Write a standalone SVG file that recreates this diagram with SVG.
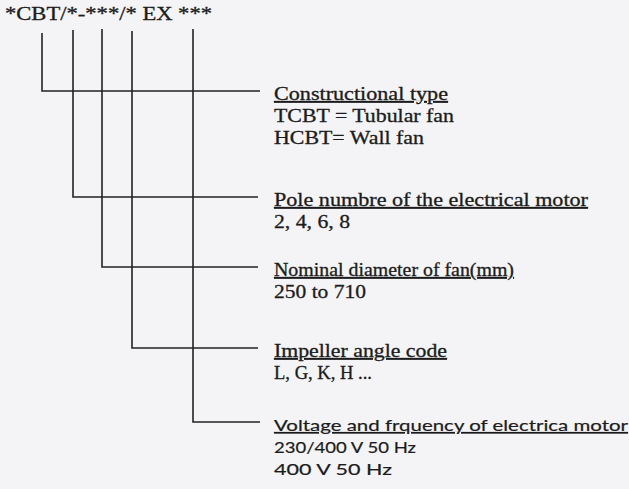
<svg xmlns="http://www.w3.org/2000/svg" width="629" height="489" viewBox="0 0 629 489">
<style>
.bg{fill:#f4f4f6}
.ln{stroke:#222;stroke-width:1.6;fill:none}
.t{font-family:"Liberation Serif","Times New Roman",serif;font-size:18px;fill:#1c1c1c;stroke:#1c1c1c;stroke-width:0.3}
.s{font-family:Lato,"Open Sans","DejaVu Sans",sans-serif;font-size:16px;fill:#1c1c1c;stroke:#1c1c1c;stroke-width:0.2}
.u{text-decoration:underline}
</style>
<rect class="bg" x="0" y="0" width="629" height="489"/>
<g id="code">
<text class="t" x="5" y="20" font-size="19" textLength="207" lengthAdjust="spacingAndGlyphs">*CBT/*-***/* EX ***</text>
</g>
<g id="connectors">
<path class="ln" d="M42,33 V91 H260"/>
<path class="ln" d="M73,30 V197 H258"/>
<path class="ln" d="M102,29 V267 H258"/>
<path class="ln" d="M132,31 V348 H258"/>
<path class="ln" d="M193,29 V422 H260"/>
</g>
<g id="n1">
<text class="t u" x="274" y="100" textLength="174" lengthAdjust="spacingAndGlyphs">Constructional type</text>
<text class="t" x="274" y="122" textLength="180" lengthAdjust="spacingAndGlyphs">TCBT = Tubular fan</text>
<text class="t" x="274" y="144" textLength="150" lengthAdjust="spacingAndGlyphs">HCBT= Wall fan</text>
</g>
<g id="n2">
<text class="t u" x="274" y="206" textLength="314" lengthAdjust="spacingAndGlyphs">Pole numbre of the electrical motor</text>
<text class="t" x="274" y="228" textLength="76" lengthAdjust="spacingAndGlyphs">2, 4, 6, 8</text>
</g>
<g id="n3">
<text class="t u" x="274" y="276" textLength="240" lengthAdjust="spacingAndGlyphs">Nominal diameter of fan(mm)</text>
<text class="t" x="274" y="298" textLength="92" lengthAdjust="spacingAndGlyphs">250 to 710</text>
</g>
<g id="n4">
<text class="t u" x="274" y="357" textLength="173" lengthAdjust="spacingAndGlyphs">Impeller angle code</text>
<text class="t" x="274" y="379" textLength="98" lengthAdjust="spacingAndGlyphs">L, G, K, H ...</text>
</g>
<g id="n5">
<text class="s u" x="274" y="431" textLength="354" lengthAdjust="spacingAndGlyphs">Voltage and frquency of electrica motor</text>
<text class="s" x="274" y="453" textLength="142" lengthAdjust="spacingAndGlyphs">230/400 V 50 Hz</text>
<text class="s" x="274" y="475" textLength="118" lengthAdjust="spacingAndGlyphs">400 V 50 Hz</text>
</g>
</svg>
